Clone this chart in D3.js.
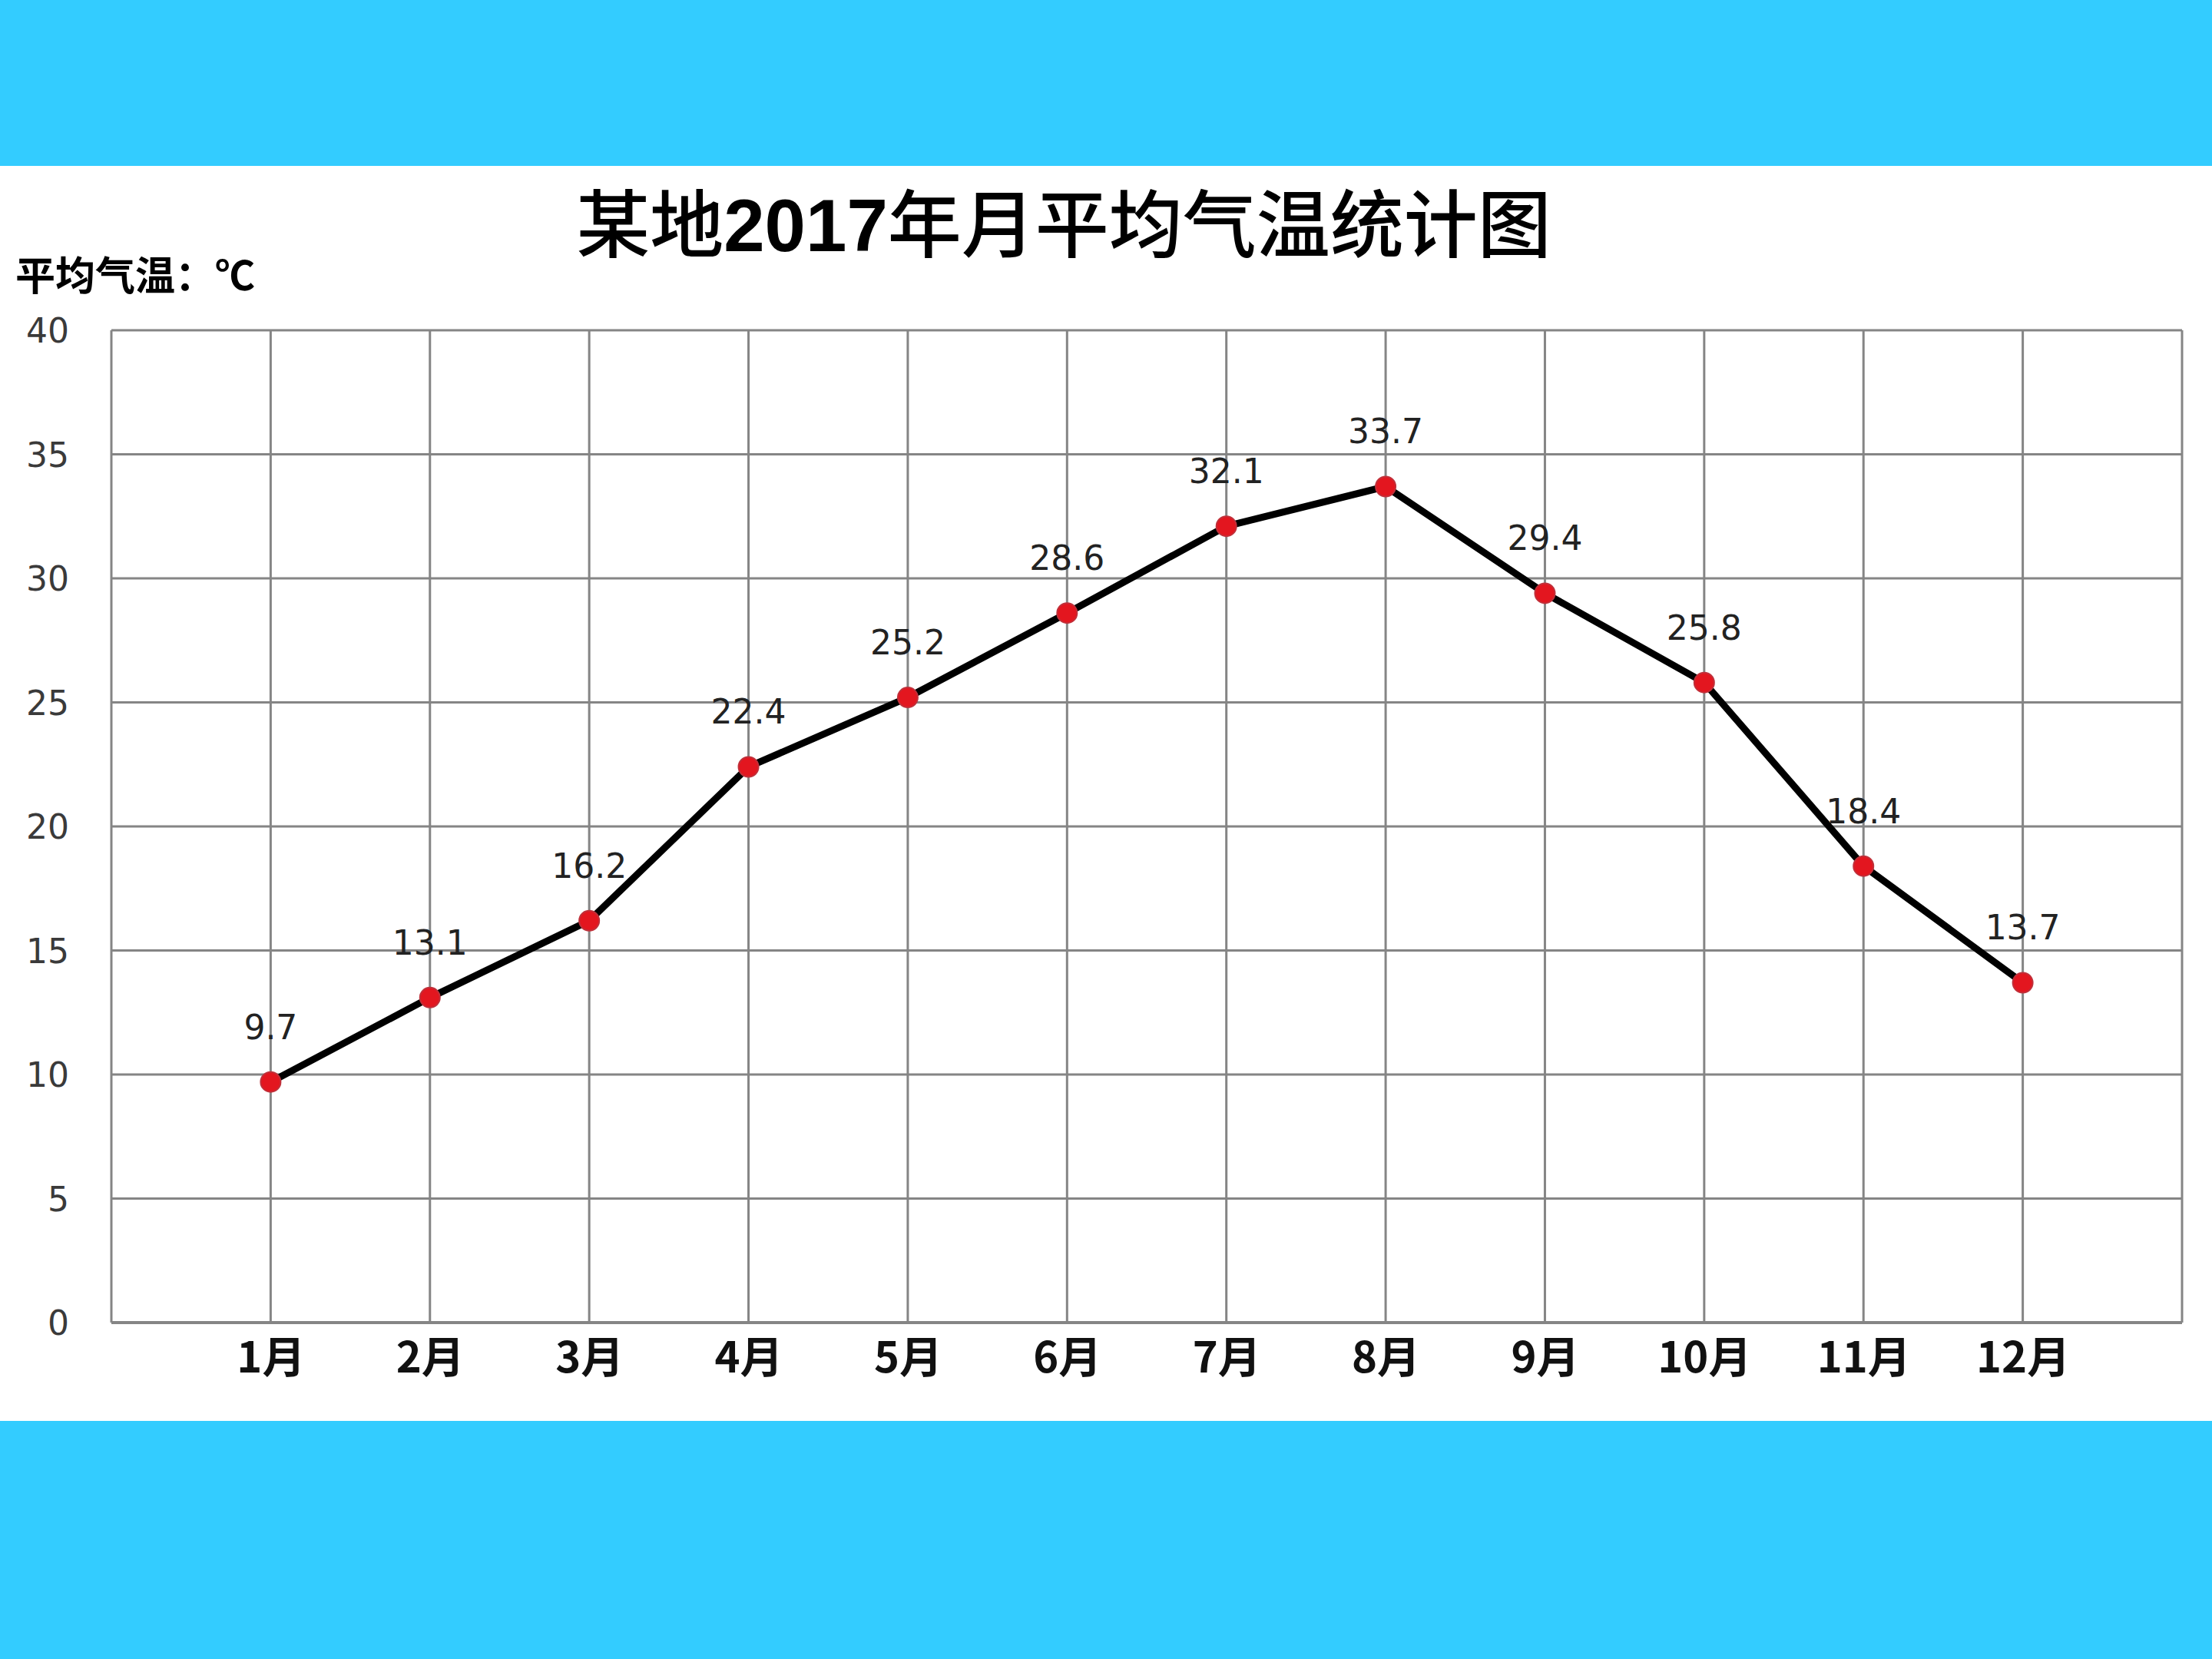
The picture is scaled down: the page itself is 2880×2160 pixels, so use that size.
<!DOCTYPE html>
<html>
<head>
<meta charset="utf-8">
<script src="https://cdn.jsdelivr.net/npm/d3@7/dist/d3.min.js"></script>
<style>
  html, body { margin: 0; padding: 0; background: #ffffff; }
  svg { display: block; }
</style>
</head>
<body>
<script>
// ---- data ----
const months = ["1月","2月","3月","4月","5月","6月","7月","8月","9月","10月","11月","12月"];
const temps = [9.7, 13.1, 16.2, 22.4, 25.2, 28.6, 32.1, 33.7, 29.4, 25.8, 18.4, 13.7];
const yTicks = [0, 5, 10, 15, 20, 25, 30, 35, 40];
const titleParts = ["某地", "2017", "年月平均气温统计图"];
const yTitle = "平均气温：℃";

// ---- layout ----
const W = 2880, H = 2160;
const plot = { left: 145, right: 2841, top: 430, bottom: 1722 };

const svg = d3.select("body").append("svg").attr("width", W).attr("height", H);

// background and blue bands
svg.append("rect").attr("x", 0).attr("y", 0).attr("width", W).attr("height", H).attr("fill", "#ffffff");
svg.append("rect").attr("x", 0).attr("y", 0).attr("width", W).attr("height", 216).attr("fill", "#33CCFF");
svg.append("rect").attr("x", 0).attr("y", 1850).attr("width", W).attr("height", H - 1850).attr("fill", "#33CCFF");

// scales
const x = d3.scaleLinear().domain([0, months.length + 1]).range([plot.left, plot.right]);
const y = d3.scaleLinear().domain([0, 40]).range([plot.bottom, plot.top]);

const gridColor = "#858585";

// horizontal grid lines
svg.append("g").selectAll("line").data(yTicks).join("line")
  .attr("x1", plot.left).attr("x2", plot.right)
  .attr("y1", d => y(d)).attr("y2", d => y(d))
  .attr("stroke", gridColor).attr("stroke-width", d => d === 0 ? 4 : 3);

// vertical grid lines (0..13)
const vIdx = d3.range(0, months.length + 2);
svg.append("g").selectAll("line").data(vIdx).join("line")
  .attr("x1", d => x(d)).attr("x2", d => x(d))
  .attr("y1", plot.top).attr("y2", plot.bottom)
  .attr("stroke", gridColor).attr("stroke-width", 3);

// y tick labels
const yAxis = d3.axisLeft(y).tickValues(yTicks).tickSize(0).tickPadding(0).tickFormat(d3.format("d"));
const gy = svg.append("g").attr("transform", `translate(${plot.left - 55},0)`).call(yAxis);
gy.select(".domain").remove();
gy.selectAll("text")
  .attr("font-family", "'DejaVu Sans', sans-serif")
  .attr("font-size", 44)
  .attr("fill", "#3a3a3a")
  .attr("dy", "0.36em");

// x labels (months)
const xAxis = d3.axisBottom(x).tickValues(d3.range(1, months.length + 1)).tickSize(0).tickPadding(0)
  .tickFormat(d => months[d - 1]);
const gx = svg.append("g").attr("transform", `translate(0,${plot.bottom})`).call(xAxis);
gx.select(".domain").remove();
gx.selectAll("text")
  .attr("font-family", "'Noto Sans CJK SC', sans-serif")
  .attr("font-weight", 700)
  .attr("font-size", 56)
  .attr("fill", "#111")
  .attr("y", 65)
  .attr("dy", 0);

// line
const line = d3.line().x((d, i) => x(i + 1)).y(d => y(d));
svg.append("path").datum(temps)
  .attr("d", line)
  .attr("fill", "none")
  .attr("stroke", "#000")
  .attr("stroke-width", 9)
  .attr("stroke-linejoin", "round");

// markers
svg.append("g").selectAll("circle").data(temps).join("circle")
  .attr("cx", (d, i) => x(i + 1))
  .attr("cy", d => y(d))
  .attr("r", 13)
  .attr("fill", "#e3161f")
  .attr("stroke", "#c0303a")
  .attr("stroke-width", 2);

// data labels
svg.append("g").selectAll("text").data(temps).join("text")
  .attr("x", (d, i) => x(i + 1))
  .attr("y", d => y(d) - 72)
  .attr("dy", "0.36em")
  .attr("text-anchor", "middle")
  .attr("font-family", "'DejaVu Sans', sans-serif")
  .attr("font-size", 44)
  .attr("fill", "#222")
  .text(d => d3.format(".1f")(d));

// title
const title = svg.append("text")
  .attr("x", 1385).attr("y", 327)
  .attr("text-anchor", "middle")
  .attr("font-family", "'Noto Sans CJK SC', sans-serif")
  .attr("font-size", 96)
  .attr("font-weight", 500)
  .attr("fill", "#000");
title.append("tspan").text(titleParts[0]);
title.append("tspan").attr("font-family", "'Liberation Sans', Arial, sans-serif").attr("font-weight", 700).text(titleParts[1]);
title.append("tspan").text(titleParts[2]);

// y axis title
svg.append("text")
  .attr("x", 20).attr("y", 378)
  .attr("font-family", "'Noto Sans CJK SC', sans-serif")
  .attr("font-size", 52)
  .attr("font-weight", 700)
  .attr("fill", "#000")
  .text(yTitle);
</script>
</body>
</html>
